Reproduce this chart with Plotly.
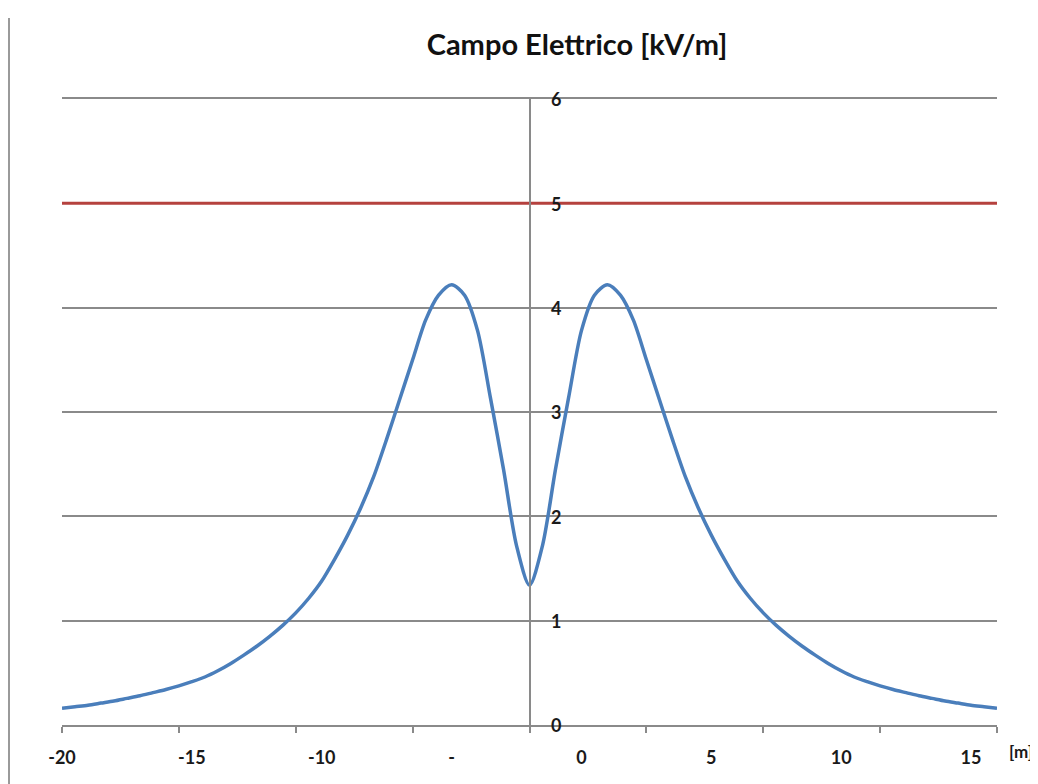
import plotly.graph_objects as go

# distance along ground [m]
x_m = [-20, -19.5, -19, -18.5, -18, -17.5, -17, -16.5, -16, -15.5, -15, -14.5,
       -14, -13.5, -13, -12.5, -12, -11.5, -11, -10.5, -10, -9.5, -9, -8.5,
       -8, -7.5, -7, -6.5, -6, -5.5, -5, -4.5, -4, -3.5, -3, -2.5,
       -2, -1.5, -1, -0.5, 0, 0.5, 1, 1.5, 2, 2.5, 3, 3.5,
       4, 4.5, 5, 5.5, 6, 6.5, 7, 7.5, 8, 8.5, 9, 9.5,
       10, 10.5, 11, 11.5, 12, 12.5, 13, 13.5, 14, 14.5, 15, 15.5, 16]

# electric field [kV/m]
campo = [0.16, 0.175, 0.19, 0.21, 0.23, 0.255, 0.28, 0.31, 0.34, 0.375, 0.415, 0.46,
         0.52, 0.59, 0.67, 0.755, 0.85, 0.955, 1.075, 1.215, 1.38, 1.59, 1.82, 2.08,
         2.38, 2.74, 3.12, 3.50, 3.88, 4.12, 4.22, 4.12, 3.78, 3.13, 2.45, 1.72,
         1.34, 1.72, 2.45, 3.13, 3.78, 4.12, 4.22, 4.12, 3.88, 3.50, 3.12, 2.74,
         2.38, 2.08, 1.82, 1.59, 1.38, 1.215, 1.075, 0.955, 0.85, 0.755, 0.67, 0.59,
         0.52, 0.46, 0.415, 0.375, 0.34, 0.31, 0.28, 0.255, 0.23, 0.21, 0.19, 0.175, 0.16]

limite_x = [-20, 16]
limite = [5, 5]

x_label_vals = [-20, -15, -10, -5, 0, 5, 10, 15]
x_label_text = ["-20", "-15", "-10", "-", "0", "5", "10", "15"]
x_tick_vals = [-20, -15.5, -11, -6.5, -2, 2.5, 7, 11.5, 16]
y_tick_vals = [0, 1, 2, 3, 4, 5, 6]

GRID = "#8a8a8a"
FONT = "Lato"
TXT = "#1a1a1a"

fig = go.Figure()
fig.add_trace(go.Scatter(x=limite_x, y=limite, mode="lines",
                         line=dict(color="#B5413E", width=3), showlegend=False))
fig.add_trace(go.Scatter(x=x_m, y=campo, mode="lines",
                         line=dict(color="#4A7EBB", width=3.5, shape="spline", smoothing=0.8),
                         showlegend=False))
# helper trace on second x axis (tick labels only)
fig.add_trace(go.Scatter(x=limite_x, y=limite, xaxis="x2", mode="lines",
                         line=dict(width=0), opacity=0, showlegend=False, hoverinfo="skip"))

fig.update_layout(
    width=1030, height=776,
    margin=dict(l=54, r=41, t=91, b=59),
    paper_bgcolor="white", plot_bgcolor="white",
    title=dict(text="<b>Campo Elettrico [kV/m]</b>", x=(577 - 8) / 1030, xref="container",
               xanchor="center", y=1 - (45 - 8) / 776, yanchor="middle",
               font=dict(family=FONT, size=29, color="#111")),
    xaxis=dict(range=[-20, 16], tickmode="array", tickvals=x_tick_vals,
               showticklabels=False, ticks="outside", ticklen=6, tickcolor=GRID,
               tickwidth=1.5, showgrid=False, zeroline=False, mirror=True,
               showline=True, linecolor=GRID, linewidth=2),
    xaxis2=dict(range=[-20, 16], overlaying="x", anchor="y", side="bottom",
                tickmode="array", tickvals=x_label_vals, ticktext=x_label_text,
                ticks="", showgrid=False, zeroline=False, showline=False,
                ticklabelstandoff=20,
                tickfont=dict(family=FONT, size=18, color=TXT, weight="bold")),
    yaxis=dict(range=[0, 6], tickmode="array", tickvals=y_tick_vals,
               anchor="free", position=0.5, side="right",
               ticklabelstandoff=17, ticklabelshift=1,
               ticks="", showgrid=True, gridcolor=GRID, gridwidth=2,
               zeroline=False, showline=True, linecolor=GRID, linewidth=2,
               tickfont=dict(family=FONT, size=18, color=TXT, weight="bold")),
    annotations=[dict(text="<b>[m]</b>", xref="paper", yref="paper",
                      x=(1007 - 62) / 935, y=(725 - 751) / 626, xanchor="left",
                      yanchor="middle", showarrow=False,
                      font=dict(family=FONT, size=17, color=TXT))],
    shapes=[dict(type="line", xref="paper", yref="paper",
                 x0=(9 - 62) / 935, x1=(9 - 62) / 935,
                 y0=(725 - 18) / 626, y1=(725 - 784) / 626,
                 line=dict(color="#9a9a9a", width=2))],
)

fig.write_html("out.html")
